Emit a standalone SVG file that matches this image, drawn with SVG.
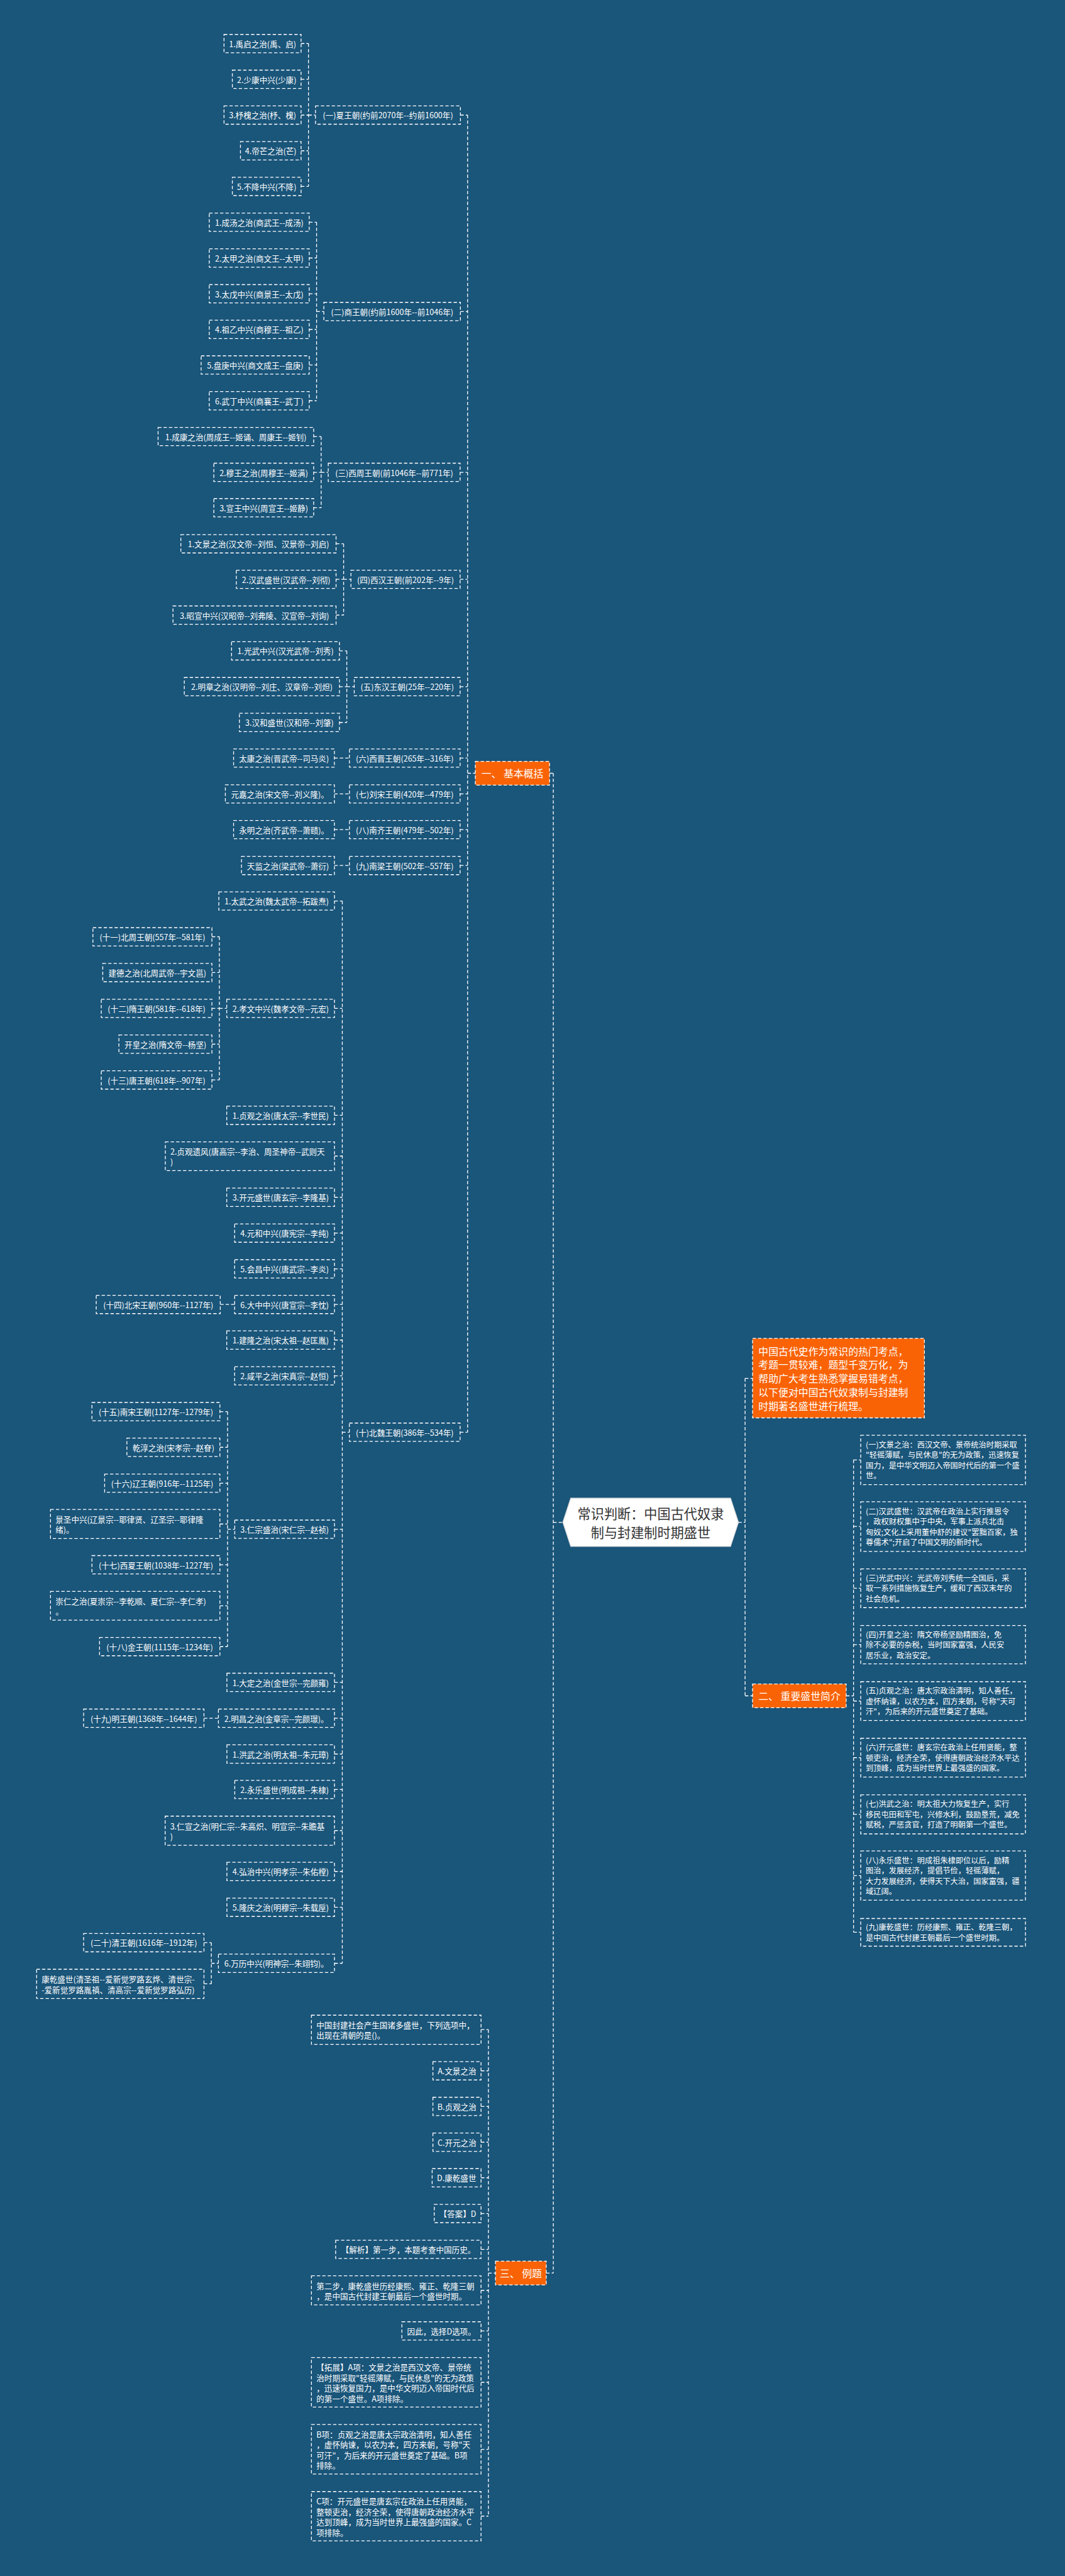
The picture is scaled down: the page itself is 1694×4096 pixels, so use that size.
<svg xmlns="http://www.w3.org/2000/svg" width="1694" height="4096" viewBox="0 0 1694 4096">
<style>
.b{fill:none;stroke:#fff;stroke-width:2;stroke-dasharray:8 5}
.o{fill:#f96306;stroke:#fff;stroke-width:2;stroke-dasharray:8 5}
.c{fill:none;stroke:#fff;stroke-width:2;stroke-dasharray:8 5}
.t{font-family:'Noto Sans CJK SC','Noto Sans',sans-serif;font-size:19px;fill:#fff;text-anchor:middle;dominant-baseline:central}
.l{font-family:'Noto Sans CJK SC','Noto Sans',sans-serif;font-size:19px;fill:#fff;text-anchor:start;dominant-baseline:central}
.r{font-family:'Noto Sans CJK SC','Noto Sans',sans-serif;font-size:18.5px;fill:#fff;text-anchor:start;dominant-baseline:central}
.ot{font-family:'Noto Sans CJK SC','Noto Sans',sans-serif;font-size:24px;fill:#fff;text-anchor:middle;dominant-baseline:central}
.it{font-family:'Noto Sans CJK SC','Noto Sans',sans-serif;font-size:24px;fill:#fff;text-anchor:start;dominant-baseline:central}
.ct{font-family:'Noto Sans CJK SC','Noto Sans',sans-serif;font-size:32px;fill:#333;text-anchor:middle;dominant-baseline:central}
</style>
<rect x="0" y="0" width="1694" height="4096" fill="#1a557a"/>
<g transform="scale(0.66172)">
<g id="connectors">
<path class="c" d="M741.5 104.7V448M723.7 104.7H741.5M723.7 190.5H741.5M723.7 276.5H741.5M723.7 362.3H741.5M723.7 448H741.5M741.5 276.5H758.4"/>
<path class="c" d="M761 534V963M743.3 534H761M743.3 620H761M743.3 705.8H761M743.3 791.5H761M743.3 877H761M743.3 963H761M761 748.5H778.4"/>
<path class="c" d="M772 1049V1220M754 1049H772M754 1135H772M754 1220H772M772 1135H789"/>
<path class="c" d="M826 1306.7V1478M807.8 1306.7H826M807.8 1392H826M807.8 1478H826M826 1392H843.6"/>
<path class="c" d="M833.6 1564V1736M816 1564H833.6M816 1650H833.6M816 1736H833.6M833.6 1650H851.5"/>
<path class="c" d="M803.8 1821.6H840M803.8 1907.7H840M803.8 1993.5H840M803.8 2079.7H840"/>
<path class="c" d="M822.8 2165V4717.6M804 2165H822.8M804 2423H822.8M804 2680H822.8M804 2778H822.8M804 2877H822.8M804 2963H822.8M804 3049H822.8M804 3134.5H822.8M804 3220H822.8M804 3306H822.8M804 3674.6H822.8M804 4042.6H822.8M804 4128.7H822.8M804 4214.8H822.8M804 4300H822.8M804 4398.8H822.8M804 4497H822.8M804 4583H822.8M804 4717.6H822.8M822.8 3441.5H839.8"/>
<path class="c" d="M527.3 2251V2595M509.4 2251H527.3M509.4 2337H527.3M509.4 2423H527.3M509.4 2509H527.3M509.4 2595H527.3M527.3 2423H545"/>
<path class="c" d="M529.5 3134.5H564"/>
<path class="c" d="M547 3392V3956.7M528.6 3392H547M528.6 3477.7H547M528.6 3564H547M528.6 3662H547M528.6 3760H547M528.6 3858.6H547M528.6 3956.7H547M547 3674.6H564.3"/>
<path class="c" d="M490.3 4128.7H525"/>
<path class="c" d="M508 4668V4767M490.3 4668H508M490.3 4767H508M508 4717.6H525"/>
<path class="c" d="M1124 276.5V3441.5M1106.7 276.5H1124M1106.7 748.5H1124M1106 1135H1124M1106 1392H1124M1106 1650H1124M1106 1821.6H1124M1106 1907.7H1124M1106 1993.5H1124M1106 2079.7H1124M1106 3441.5H1124M1124 1858H1142.5"/>
<path class="c" d="M1330 1858V5462M1321 1858H1330M1313 5462H1330M1330 3658H1353"/>
<path class="c" d="M1174 4877V6046M1156.3 4877H1174M1156.3 4976H1174M1156.3 5061.5H1174M1156.3 5147.6H1174M1156.3 5233H1174M1156.3 5319H1174M1156.3 5405H1174M1156.3 5503.5H1174M1156.3 5601H1174M1156.3 5724.5H1174M1156.3 5885.5H1174M1156.3 6046H1174M1174 5462H1191"/>
<path class="c" d="M1791 3312V4075M1775 3658H1791M1791 3312H1809M1791 4075H1809"/>
<path class="c" d="M2051.7 3508V4643M2034 4075H2051.7M2051.7 3508H2069M2051.7 3668H2069M2051.7 3816.5H2069M2051.7 3952H2069M2051.7 4087.5H2069M2051.7 4223.5H2069M2051.7 4359.6H2069M2051.7 4507H2069M2051.7 4643H2069"/>
</g>

<g id="center"><polygon points="1353,3658 1372,3600 1756,3600 1775,3658 1756,3716 1372,3716" fill="#fff" stroke="#ddd" stroke-width="2"/><text class="ct" x="1564" y="3636">常识判断：中国古代奴隶</text><text class="ct" x="1564" y="3680">制与封建制时期盛世</text></g>

<g id="b1"><rect class="o" x="1142.5" y="1829.5" width="178.5" height="57"/><text class="ot" x="1231.75" y="1858">一、 基本概括</text></g>
<g id="b2"><rect class="o" x="1809" y="4046.5" width="225" height="57"/><text class="ot" x="1921.5" y="4075">二、 重要盛世简介</text></g>
<g id="b3"><rect class="o" x="1191" y="5433.5" width="122" height="57"/><text class="ot" x="1252" y="5462">三、 例题</text></g>
<g id="intro"><rect class="o" x="1809" y="3216" width="413" height="191"/><text class="it"><tspan x="1823" y="3245.5">中国古代史作为常识的热门考点，</tspan><tspan x="1823" y="3278.6">考题一贯较难，题型千变万化，为</tspan><tspan x="1823" y="3311.7">帮助广大考生熟悉掌握易错考点，</tspan><tspan x="1823" y="3344.8">以下便对中国古代奴隶制与封建制</tspan><tspan x="1823" y="3377.9">时期著名盛世进行梳理。</tspan></text></g>

<g id="g1"><rect class="b" x="758.4" y="254.5" width="348.3" height="44"/><text class="t" x="932.55" y="276.5">(一)夏王朝(约前2070年--约前1600年)</text></g>
<g id="g1a"><rect class="b" x="538.5" y="82.7" width="185.2" height="44"/><text class="t" x="631.1" y="104.7">1.禹启之治(禹、启)</text></g>
<g id="g1b"><rect class="b" x="558.5" y="168.5" width="165.2" height="44"/><text class="t" x="641.1" y="190.5">2.少康中兴(少康)</text></g>
<g id="g1c"><rect class="b" x="538.5" y="254.5" width="185.2" height="44"/><text class="t" x="631.1" y="276.5">3.杼槐之治(杼、槐)</text></g>
<g id="g1d"><rect class="b" x="578" y="340.3" width="145.7" height="44"/><text class="t" x="650.85" y="362.3">4.帝芒之治(芒)</text></g>
<g id="g1e"><rect class="b" x="558.5" y="426" width="165.2" height="44"/><text class="t" x="641.1" y="448">5.不降中兴(不降)</text></g>

<g id="g2"><rect class="b" x="778.4" y="726.5" width="328.3" height="44"/><text class="t" x="942.55" y="748.5">(二)商王朝(约前1600年--前1046年)</text></g>
<g id="g2a"><rect class="b" x="503" y="512" width="240.3" height="44"/><text class="t" x="623.15" y="534">1.成汤之治(商武王--成汤)</text></g>
<g id="g2b"><rect class="b" x="503" y="598" width="240.3" height="44"/><text class="t" x="623.15" y="620">2.太甲之治(商文王--太甲)</text></g>
<g id="g2c"><rect class="b" x="503" y="683.8" width="240.3" height="44"/><text class="t" x="623.15" y="705.8">3.太戊中兴(商景王--太戊)</text></g>
<g id="g2d"><rect class="b" x="503" y="769.5" width="240.3" height="44"/><text class="t" x="623.15" y="791.5">4.祖乙中兴(商穆王--祖乙)</text></g>
<g id="g2e"><rect class="b" x="483.5" y="855" width="259.8" height="44"/><text class="t" x="613.4" y="877">5.盘庚中兴(商文成王--盘庚)</text></g>
<g id="g2f"><rect class="b" x="503" y="941" width="240.3" height="44"/><text class="t" x="623.15" y="963">6.武丁中兴(商襄王--武丁)</text></g>

<g id="g3"><rect class="b" x="789" y="1113" width="317" height="44"/><text class="t" x="947.5" y="1135">(三)西周王朝(前1046年--前771年)</text></g>
<g id="g3a"><rect class="b" x="380" y="1027" width="374" height="44"/><text class="t" x="567" y="1049">1.成康之治(周成王--姬诵、周康王--姬钊)</text></g>
<g id="g3b"><rect class="b" x="514" y="1113" width="240" height="44"/><text class="t" x="634" y="1135">2.穆王之治(周穆王--姬满)</text></g>
<g id="g3c"><rect class="b" x="514" y="1198" width="240" height="44"/><text class="t" x="634" y="1220">3.宣王中兴(周宣王--姬静)</text></g>

<g id="g4"><rect class="b" x="843.6" y="1370" width="262.4" height="44"/><text class="t" x="974.8" y="1392">(四)西汉王朝(前202年--9年)</text></g>
<g id="g4a"><rect class="b" x="434.7" y="1284.7" width="373.1" height="44"/><text class="t" x="621.25" y="1306.7">1.文景之治(汉文帝--刘恒、汉景帝--刘启)</text></g>
<g id="g4b"><rect class="b" x="568" y="1370" width="239.8" height="44"/><text class="t" x="687.9" y="1392">2.汉武盛世(汉武帝--刘彻)</text></g>
<g id="g4c"><rect class="b" x="415.8" y="1456" width="392" height="44"/><text class="t" x="611.8" y="1478">3.昭宣中兴(汉昭帝--刘弗陵、汉宣帝--刘询)</text></g>

<g id="g5"><rect class="b" x="851.5" y="1628" width="254.5" height="44"/><text class="t" x="978.75" y="1650">(五)东汉王朝(25年--220年)</text></g>
<g id="g5a"><rect class="b" x="556.6" y="1542" width="259.4" height="44"/><text class="t" x="686.3" y="1564">1.光武中兴(汉光武帝--刘秀)</text></g>
<g id="g5b"><rect class="b" x="443" y="1628" width="373" height="44"/><text class="t" x="629.5" y="1650">2.明章之治(汉明帝--刘庄、汉章帝--刘炟)</text></g>
<g id="g5c"><rect class="b" x="575.5" y="1714" width="240.5" height="44"/><text class="t" x="695.75" y="1736">3.汉和盛世(汉和帝--刘肇)</text></g>

<g id="g6"><rect class="b" x="840" y="1799.6" width="266" height="44"/><text class="t" x="973" y="1821.6">(六)西晋王朝(265年--316年)</text></g>
<g id="g6a"><rect class="b" x="561.5" y="1799.6" width="242.3" height="44"/><text class="t" x="682.65" y="1821.6">太康之治(晋武帝--司马炎)</text></g>
<g id="g7"><rect class="b" x="840" y="1885.7" width="266" height="44"/><text class="t" x="973" y="1907.7">(七)刘宋王朝(420年--479年)</text></g>
<g id="g7a"><rect class="b" x="541.7" y="1885.7" width="262.1" height="44"/><text class="t" x="672.75" y="1907.7">元嘉之治(宋文帝--刘义隆)。</text></g>
<g id="g8"><rect class="b" x="840" y="1971.5" width="266" height="44"/><text class="t" x="973" y="1993.5">(八)南齐王朝(479年--502年)</text></g>
<g id="g8a"><rect class="b" x="561.5" y="1971.5" width="242.3" height="44"/><text class="t" x="682.65" y="1993.5">永明之治(齐武帝--萧赜)。</text></g>
<g id="g9"><rect class="b" x="840" y="2057.7" width="266" height="44"/><text class="t" x="973" y="2079.7">(九)南梁王朝(502年--557年)</text></g>
<g id="g9a"><rect class="b" x="580.5" y="2057.7" width="223.3" height="44"/><text class="t" x="692.15" y="2079.7">天监之治(梁武帝--萧衍)</text></g>

<g id="g10"><rect class="b" x="839.8" y="3419.5" width="266.2" height="44"/><text class="t" x="972.9" y="3441.5">(十)北魏王朝(386年--534年)</text></g>
<g id="c1"><rect class="b" x="526" y="2143" width="278" height="44"/><text class="t" x="665" y="2165">1.太武之治(魏太武帝--拓跋焘)</text></g>
<g id="c2"><rect class="b" x="545" y="2401" width="259" height="44"/><text class="t" x="674.5" y="2423">2.孝文中兴(魏孝文帝--元宏)</text></g>
<g id="c3"><rect class="b" x="545" y="2658" width="259" height="44"/><text class="t" x="674.5" y="2680">1.贞观之治(唐太宗--李世民)</text></g>
<g id="c4"><rect class="b" x="397.4" y="2743.7" width="406.6" height="69.3"/><text class="l"><tspan x="409.4" y="2765.7">2.贞观遗风(唐高宗--李治、周圣神帝--武则天</tspan><tspan x="409.4" y="2790.3">)</tspan></text></g>
<g id="c5"><rect class="b" x="545" y="2855" width="259" height="44"/><text class="t" x="674.5" y="2877">3.开元盛世(唐玄宗--李隆基)</text></g>
<g id="c6"><rect class="b" x="564" y="2941" width="240" height="44"/><text class="t" x="684" y="2963">4.元和中兴(唐宪宗--李纯)</text></g>
<g id="c7"><rect class="b" x="564" y="3027" width="240" height="44"/><text class="t" x="684" y="3049">5.会昌中兴(唐武宗--李炎)</text></g>
<g id="c8"><rect class="b" x="564" y="3112.5" width="240" height="44"/><text class="t" x="684" y="3134.5">6.大中中兴(唐宣宗--李忱)</text></g>
<g id="c9"><rect class="b" x="545" y="3198" width="259" height="44"/><text class="t" x="674.5" y="3220">1.建隆之治(宋太祖--赵匡胤)</text></g>
<g id="c10"><rect class="b" x="564" y="3284" width="240" height="44"/><text class="t" x="684" y="3306">2.咸平之治(宋真宗--赵恒)</text></g>
<g id="c11"><rect class="b" x="564.3" y="3652.6" width="239.7" height="44"/><text class="t" x="684.15" y="3674.6">3.仁宗盛治(宋仁宗--赵祯)</text></g>
<g id="c12"><rect class="b" x="545.4" y="4020.6" width="258.6" height="44"/><text class="t" x="674.7" y="4042.6">1.大定之治(金世宗--完颜雍)</text></g>
<g id="c13"><rect class="b" x="525" y="4106.7" width="279" height="44"/><text class="t" x="664.5" y="4128.7">2.明昌之治(金章宗--完颜璟)。</text></g>
<g id="c14"><rect class="b" x="545.4" y="4192.8" width="258.6" height="44"/><text class="t" x="674.7" y="4214.8">1.洪武之治(明太祖--朱元璋)</text></g>
<g id="c15"><rect class="b" x="564.3" y="4278" width="239.7" height="44"/><text class="t" x="684.15" y="4300">2.永乐盛世(明成祖--朱棣)</text></g>
<g id="c16"><rect class="b" x="397" y="4364" width="407" height="70"/><text class="l"><tspan x="409" y="4386.5">3.仁宣之治(明仁宗--朱高炽、明宣宗--朱瞻基</tspan><tspan x="409" y="4411.1">)</tspan></text></g>
<g id="c17"><rect class="b" x="545.4" y="4475" width="258.6" height="44"/><text class="t" x="674.7" y="4497">4.弘治中兴(明孝宗--朱佑樘)</text></g>
<g id="c18"><rect class="b" x="545.4" y="4561" width="258.6" height="44"/><text class="t" x="674.7" y="4583">5.隆庆之治(明穆宗--朱载垕)</text></g>
<g id="c19"><rect class="b" x="525" y="4695.6" width="279" height="44"/><text class="t" x="664.5" y="4717.6">6.万历中兴(明神宗--朱翊钧)。</text></g>

<g id="s1"><rect class="b" x="223.3" y="2229" width="286.1" height="44"/><text class="t" x="366.35" y="2251">(十一)北周王朝(557年--581年)</text></g>
<g id="s2"><rect class="b" x="247" y="2315" width="262.4" height="44"/><text class="t" x="378.2" y="2337">建德之治(北周武帝--宇文邕)</text></g>
<g id="s3"><rect class="b" x="243.4" y="2401" width="266" height="44"/><text class="t" x="376.4" y="2423">(十二)隋王朝(581年--618年)</text></g>
<g id="s4"><rect class="b" x="285.8" y="2487" width="223.6" height="44"/><text class="t" x="397.6" y="2509">开皇之治(隋文帝--杨坚)</text></g>
<g id="s5"><rect class="b" x="243.4" y="2573" width="266" height="44"/><text class="t" x="376.4" y="2595">(十三)唐王朝(618年--907年)</text></g>
<g id="s6"><rect class="b" x="231.3" y="3112.5" width="298.2" height="44"/><text class="t" x="380.4" y="3134.5">(十四)北宋王朝(960年--1127年)</text></g>
<g id="r1"><rect class="b" x="221" y="3370" width="307.6" height="44"/><text class="t" x="374.8" y="3392">(十五)南宋王朝(1127年--1279年)</text></g>
<g id="r2"><rect class="b" x="305" y="3455.7" width="223.6" height="44"/><text class="t" x="416.8" y="3477.7">乾淳之治(宋孝宗--赵眘)</text></g>
<g id="r3"><rect class="b" x="251.5" y="3542" width="277.1" height="44"/><text class="t" x="390.05" y="3564">(十六)辽王朝(916年--1125年)</text></g>
<g id="r4"><rect class="b" x="121.4" y="3627" width="407.2" height="70"/><text class="l"><tspan x="133.4" y="3649.7">景圣中兴(辽景宗--耶律贤、辽圣宗--耶律隆</tspan><tspan x="133.4" y="3674.3">绪)。</tspan></text></g>
<g id="r5"><rect class="b" x="221" y="3738" width="307.6" height="44"/><text class="t" x="374.8" y="3760">(十七)西夏王朝(1038年--1227年)</text></g>
<g id="r6"><rect class="b" x="121.4" y="3824" width="407.2" height="69"/><text class="l"><tspan x="133.4" y="3846.3">崇仁之治(夏崇宗--李乾顺、夏仁宗--李仁孝)</tspan><tspan x="133.4" y="3870.9">。</tspan></text></g>
<g id="r7"><rect class="b" x="239.3" y="3934.7" width="289.3" height="44"/><text class="t" x="383.95" y="3956.7">(十八)金王朝(1115年--1234年)</text></g>
<g id="m1"><rect class="b" x="201" y="4106.7" width="289.3" height="44"/><text class="t" x="345.65" y="4128.7">(十九)明王朝(1368年--1644年)</text></g>
<g id="q1"><rect class="b" x="201" y="4646" width="289.3" height="44"/><text class="t" x="345.65" y="4668">(二十)清王朝(1616年--1912年)</text></g>
<g id="q2"><rect class="b" x="88" y="4732" width="402.3" height="70"/><text class="l"><tspan x="100" y="4754.7">康乾盛世(清圣祖--爱新觉罗路玄烨、清世宗-</tspan><tspan x="100" y="4779.3">-爱新觉罗路胤禛、清高宗--爱新觉罗路弘历)</tspan></text></g>

<g id="p1"><rect class="b" x="2069" y="3448.8" width="396" height="118.6"/><text class="r"><tspan x="2081" y="3470.6">(一)文景之治：西汉文帝、景帝统治时期采取</tspan><tspan x="2081" y="3495.6">"轻徭薄赋，与民休息"的无为政策，迅速恢复</tspan><tspan x="2081" y="3520.6">国力，是中华文明迈入帝国时代后的第一个盛</tspan><tspan x="2081" y="3545.6">世。</tspan></text></g>
<g id="p2"><rect class="b" x="2069" y="3608.7" width="396" height="119.3"/><text class="r"><tspan x="2081" y="3630.8">(二)汉武盛世：汉武帝在政治上实行推恩令</tspan><tspan x="2081" y="3655.8">，政权财权集中于中央，军事上派兵北击</tspan><tspan x="2081" y="3680.8">匈奴;文化上采用董仲舒的建议"罢黜百家，独</tspan><tspan x="2081" y="3705.8">尊儒术";开启了中国文明的新时代。</tspan></text></g>
<g id="p3"><rect class="b" x="2069" y="3770" width="396" height="93"/><text class="r"><tspan x="2081" y="3791.5">(三)光武中兴：光武帝刘秀统一全国后，采</tspan><tspan x="2081" y="3816.5">取一系列措施恢复生产，缓和了西汉末年的</tspan><tspan x="2081" y="3841.5">社会危机。</tspan></text></g>
<g id="p4"><rect class="b" x="2069" y="3906" width="396" height="92"/><text class="r"><tspan x="2081" y="3927">(四)开皇之治：隋文帝杨坚励精图治，免</tspan><tspan x="2081" y="3952">除不必要的杂税，当时国家富强，人民安</tspan><tspan x="2081" y="3977">居乐业，政治安定。</tspan></text></g>
<g id="p5"><rect class="b" x="2069" y="4041" width="396" height="93"/><text class="r"><tspan x="2081" y="4062.5">(五)贞观之治：唐太宗政治清明，知人善任，</tspan><tspan x="2081" y="4087.5">虚怀纳谏，以农为本，四方来朝，号称"天可</tspan><tspan x="2081" y="4112.5">汗"，为后来的开元盛世奠定了基础。</tspan></text></g>
<g id="p6"><rect class="b" x="2069" y="4177" width="396" height="93"/><text class="r"><tspan x="2081" y="4198.5">(六)开元盛世：唐玄宗在政治上任用贤能，整</tspan><tspan x="2081" y="4223.5">顿吏治，经济全荣，使得唐朝政治经济水平达</tspan><tspan x="2081" y="4248.5">到顶峰，成为当时世界上最强盛的国家。</tspan></text></g>
<g id="p7"><rect class="b" x="2069" y="4312.7" width="396" height="94"/><text class="r"><tspan x="2081" y="4334.6">(七)洪武之治：明太祖大力恢复生产，实行</tspan><tspan x="2081" y="4359.6">移民屯田和军屯，兴修水利，鼓励垦荒，减免</tspan><tspan x="2081" y="4384.6">赋税，严惩贪官，打造了明朝第一个盛世。</tspan></text></g>
<g id="p8"><rect class="b" x="2069" y="4447.7" width="396" height="118.3"/><text class="r"><tspan x="2081" y="4469.5">(八)永乐盛世：明成祖朱棣即位以后，励精</tspan><tspan x="2081" y="4494.5">图治，发展经济，提倡节俭，轻徭薄赋，</tspan><tspan x="2081" y="4519.5">大力发展经济，使得天下大治，国家富强，疆</tspan><tspan x="2081" y="4544.5">域辽阔。</tspan></text></g>
<g id="p9"><rect class="b" x="2069" y="4610" width="396" height="66.5"/><text class="r"><tspan x="2081" y="4630.8">(九)康乾盛世：历经康熙、雍正、乾隆三朝，</tspan><tspan x="2081" y="4655.8">是中国古代封建王朝最后一个盛世时期。</tspan></text></g>

<g id="e1"><rect class="b" x="748.6" y="4842.3" width="407.7" height="70.1"/><text class="l"><tspan x="760.6" y="4865.1">中国封建社会产生国诸多盛世，下列选项中，</tspan><tspan x="760.6" y="4889.5">出现在清朝的是()。</tspan></text></g>
<g id="e2"><rect class="b" x="1040.6" y="4954" width="115.7" height="44"/><text class="t" x="1098.45" y="4976">A.文景之治</text></g>
<g id="e3"><rect class="b" x="1040.6" y="5039.5" width="115.7" height="44"/><text class="t" x="1098.45" y="5061.5">B.贞观之治</text></g>
<g id="e4"><rect class="b" x="1040.6" y="5125.6" width="115.7" height="44"/><text class="t" x="1098.45" y="5147.6">C.开元之治</text></g>
<g id="e5"><rect class="b" x="1038.8" y="5211" width="117.5" height="44"/><text class="t" x="1097.55" y="5233">D.康乾盛世</text></g>
<g id="e6"><rect class="b" x="1043.8" y="5297" width="112.5" height="44"/><text class="t" x="1100.05" y="5319">【答案】D</text></g>
<g id="e7"><rect class="b" x="806.8" y="5383" width="349.5" height="44"/><text class="t" x="981.55" y="5405">【解析】第一步，本题考查中国历史。</text></g>
<g id="e8"><rect class="b" x="748.6" y="5468.6" width="407.7" height="69.8"/><text class="l"><tspan x="760.6" y="5491.3">第二步，康乾盛世历经康熙、雍正、乾隆三朝</tspan><tspan x="760.6" y="5515.7">，是中国古代封建王朝最后一个盛世时期。</tspan></text></g>
<g id="e9"><rect class="b" x="966" y="5579" width="190.3" height="44"/><text class="t" x="1061.15" y="5601">因此，选择D选项。</text></g>
<g id="e10"><rect class="b" x="748.6" y="5665" width="407.7" height="119"/><text class="l"><tspan x="760.6" y="5687.3">【拓展】A项：文景之治是西汉文帝、景帝统</tspan><tspan x="760.6" y="5712.1">治时期采取"轻徭薄赋，与民休息"的无为政策</tspan><tspan x="760.6" y="5736.9">，迅速恢复国力，是中华文明迈入帝国时代后</tspan><tspan x="760.6" y="5761.7">的第一个盛世。A项排除。</tspan></text></g>
<g id="e11"><rect class="b" x="748.6" y="5826" width="407.7" height="119"/><text class="l"><tspan x="760.6" y="5848.3">B项：贞观之治是唐太宗政治清明，知人善任</tspan><tspan x="760.6" y="5873.1">，虚怀纳谏，以农为本，四方来朝，号称"天</tspan><tspan x="760.6" y="5897.9">可汗"，为后来的开元盛世奠定了基础。B项</tspan><tspan x="760.6" y="5922.7">排除。</tspan></text></g>
<g id="e12"><rect class="b" x="748.6" y="5987" width="407.7" height="118.5"/><text class="l"><tspan x="760.6" y="6009.1">C项：开元盛世是唐玄宗在政治上任用贤能，</tspan><tspan x="760.6" y="6033.9">整顿吏治，经济全荣，使得唐朝政治经济水平</tspan><tspan x="760.6" y="6058.7">达到顶峰，成为当时世界上最强盛的国家。C</tspan><tspan x="760.6" y="6083.5">项排除。</tspan></text></g>
</g>
</svg>
